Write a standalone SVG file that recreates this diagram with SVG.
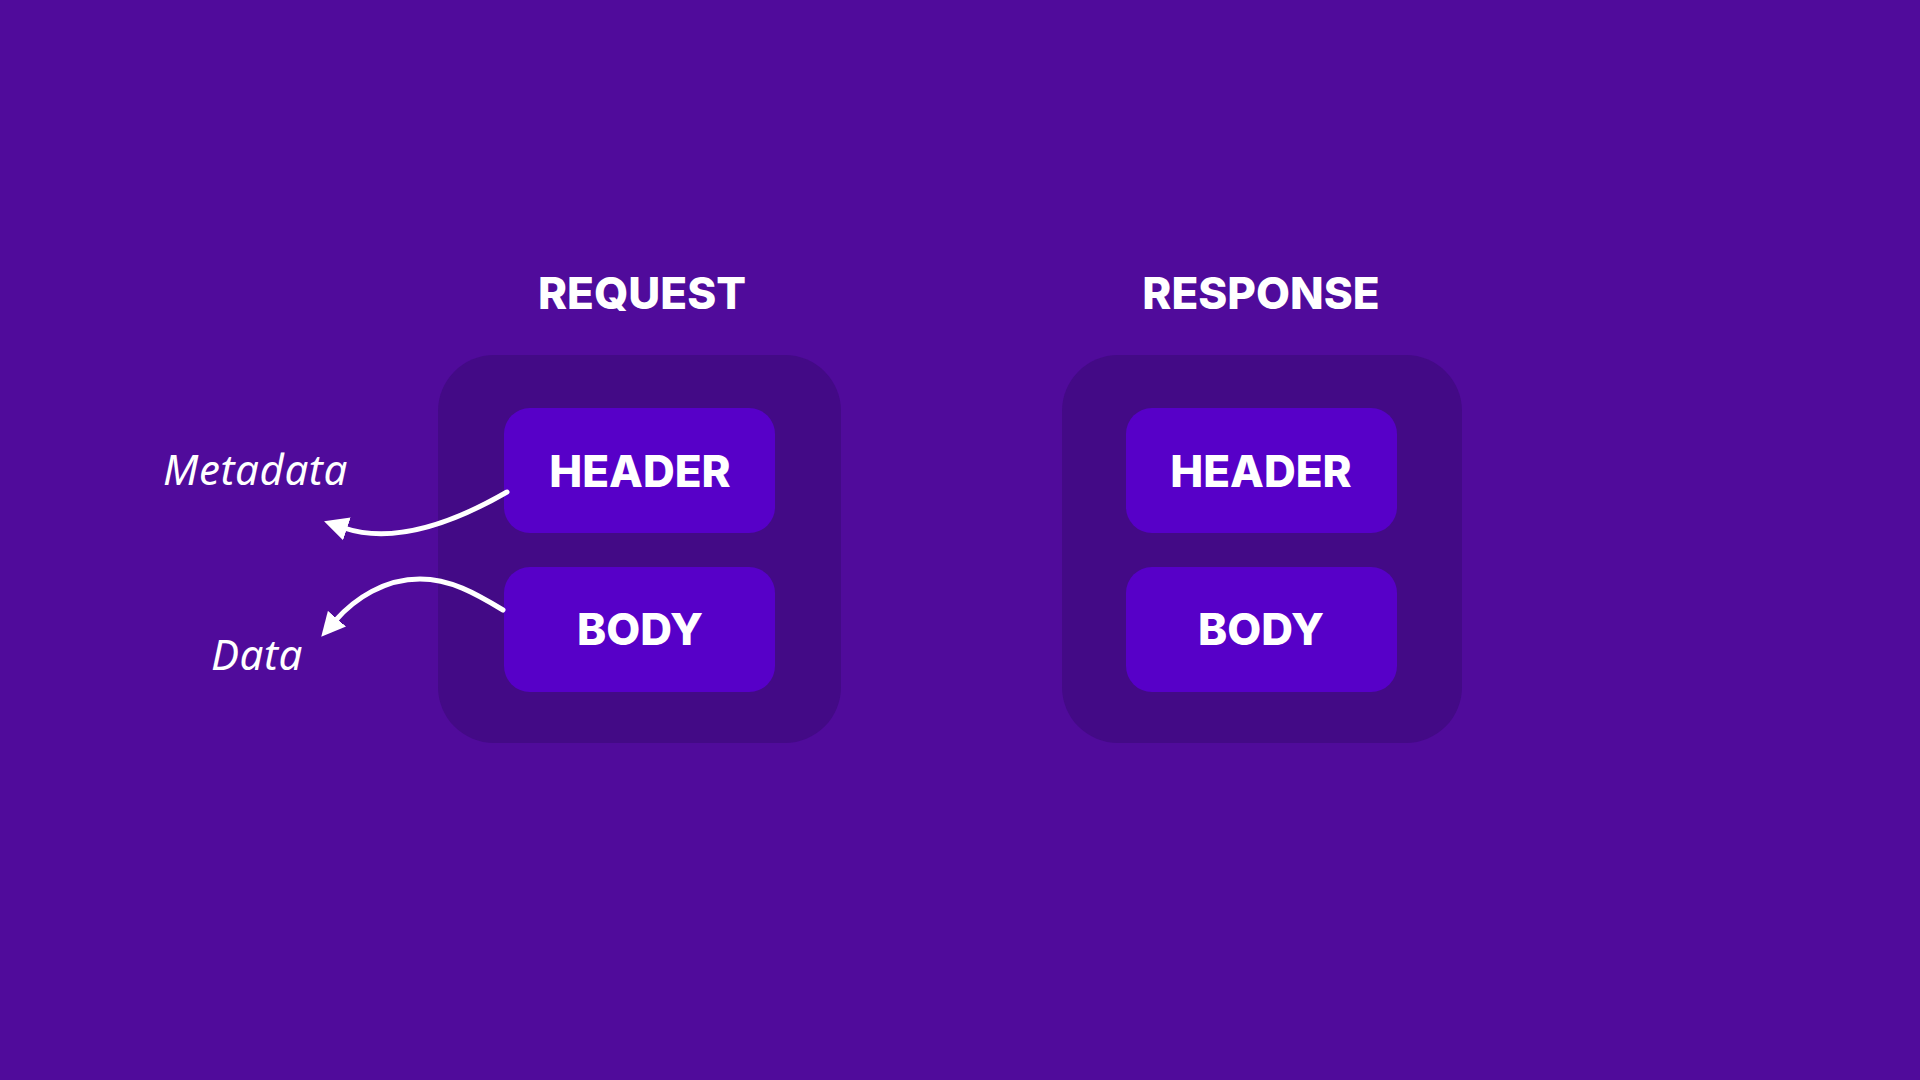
<svg xmlns="http://www.w3.org/2000/svg" width="1920" height="1080" viewBox="0 0 1920 1080">
  <style>
    .frame { fill: #430a86; }
    .part { fill: #5700c8; }
    .title { font-family: Inter, "Liberation Sans", sans-serif; font-weight: 800; font-size: 44px; fill: #ffffff; text-anchor: middle; }
    .label { font-family: Inter, "Liberation Sans", sans-serif; font-weight: 800; font-size: 44px; fill: #ffffff; text-anchor: middle; }
    .note { font-family: "Noto Sans", "DejaVu Sans", sans-serif; font-style: italic; font-weight: 400; font-size: 42px; fill: #ffffff; letter-spacing: 0.6px; }
    .link { fill: none; stroke: #ffffff; stroke-width: 5; stroke-linecap: round; }
  </style>
  <defs>
    <marker id="head" markerUnits="userSpaceOnUse" markerWidth="26" markerHeight="26" viewBox="0 0 26 26" refX="3" refY="13" orient="auto">
      <path d="M0,1 L24,13 L0,25 z" fill="#ffffff"/>
    </marker>
  </defs>

  <rect width="1920" height="1080" fill="#500b9b"/>

  <!-- request -->
  <g id="request">
    <text class="title" x="642" y="309">REQUEST</text>
    <rect class="frame" x="438" y="355" width="403" height="388" rx="56"/>
  </g>
  <g id="request-header">
    <rect class="part" x="504" y="408" width="271" height="125" rx="26"/>
    <text class="label" x="640" y="487">HEADER</text>
  </g>
  <g id="request-body">
    <rect class="part" x="504" y="567" width="271" height="125" rx="26"/>
    <text class="label" x="640" y="645">BODY</text>
  </g>

  <!-- response -->
  <g id="response">
    <text class="title" x="1261" y="309">RESPONSE</text>
    <rect class="frame" x="1062" y="355" width="400" height="388" rx="56"/>
  </g>
  <g id="response-header">
    <rect class="part" x="1126" y="408" width="271" height="125" rx="26"/>
    <text class="label" x="1261" y="487">HEADER</text>
  </g>
  <g id="response-body">
    <rect class="part" x="1126" y="567" width="271" height="125" rx="26"/>
    <text class="label" x="1261" y="645">BODY</text>
  </g>

  <!-- annotations -->
  <g id="metadata-note">
    <text class="note" x="163" y="485">Metadata</text>
  </g>
  <g id="data-note">
    <text class="note" x="211" y="670">Data</text>
  </g>

  <g id="connectors">
    <path class="link" d="M507,492 C455,522 395,545 344,528" marker-end="url(#head)"/>
    <path class="link" d="M503,610 C475,593 450,579 420,579 C385,579 355,598 335,621" marker-end="url(#head)"/>
  </g>
</svg>
